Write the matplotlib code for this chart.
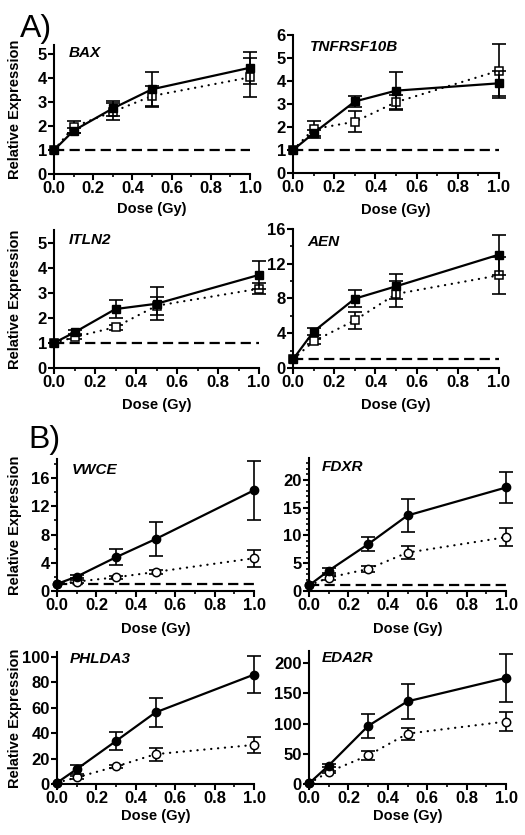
import matplotlib
matplotlib.use("Agg")
import matplotlib.pyplot as plt
from matplotlib.ticker import MultipleLocator

plt.rcParams['font.family'] = ['Liberation Sans', 'DejaVu Sans']
plt.rcParams['font.weight'] = 'bold'

dose = [0.0, 0.1, 0.3, 0.5, 1.0]

# panel A (squares)
bax_filled = [1, 1.81, 2.74, 3.54, 4.44]
bax_filled_err = [0, 0.10, 0.30, 0.73, 0.67]
bax_open = [1, 1.97, 2.60, 3.26, 4.04]
bax_open_err = [0, 0.25, 0.35, 0.40, 0.82]

tnf_filled = [1, 1.73, 3.11, 3.58, 3.90]
tnf_filled_err = [0, 0.12, 0.25, 0.80, 0.55]
tnf_open = [1, 1.91, 2.23, 3.08, 4.45]
tnf_open_err = [0, 0.37, 0.45, 0.32, 1.17]

itln2_filled = [1, 1.42, 2.35, 2.56, 3.71]
itln2_filled_err = [0, 0.08, 0.35, 0.65, 0.56]
itln2_open = [1, 1.23, 1.63, 2.48, 3.16]
itln2_open_err = [0, 0.08, 0.10, 0.35, 0.22]

aen_filled = [1, 4.2, 7.98, 9.4, 13.05]
aen_filled_err = [0, 0.4, 0.95, 1.45, 2.3]
aen_open = [1, 3.07, 5.49, 8.52, 10.67]
aen_open_err = [0, 0.3, 1.0, 1.5, 2.1]

# panel B (circles)
vwce_filled = [1, 2.04, 4.79, 7.35, 14.27]
vwce_filled_err = [0, 0.2, 1.1, 2.4, 4.2]
vwce_open = [1, 1.33, 1.94, 2.7, 4.64]
vwce_open_err = [0, 0.2, 0.2, 0.3, 1.2]

fdxr_filled = [1, 3.66, 8.41, 13.57, 18.6]
fdxr_filled_err = [0, 0.4, 1.3, 2.9, 2.7]
fdxr_open = [1, 2.4, 3.96, 6.9, 9.67]
fdxr_open_err = [0, 0.4, 0.5, 1.1, 1.6]

phlda3_filled = [1, 11.7, 33.9, 56.4, 86.2]
phlda3_filled_err = [0, 3.5, 7.4, 11.7, 14.6]
phlda3_open = [1, 5.2, 13.8, 23.5, 30.8]
phlda3_open_err = [0, 1.0, 1.5, 5.2, 6.0]

eda2r_filled = [1, 30.6, 96, 136.7, 175.6]
eda2r_filled_err = [0, 3, 19.5, 29, 40]
eda2r_open = [1, 20, 47.2, 83.3, 103.3]
eda2r_open_err = [0, 2, 8, 10, 16]

W, H = 525, 835


def make_ax(fig, left, right, bottom, top):
    return fig.add_axes([left / W, 1 - bottom / H, (right - left) / W, (bottom - top) / H])


def draw_panel(ax, gene, filled, filled_err, open_, open_err, ymax, ystep,
               yminor=None, marker='s', refline=True, label_pos=(0.075, 0.93),
               ylabel=False, ylabel_x=-0.2, xlabel_y=-0.26):
    dotted = (0, (0.1, 3.0))
    # open series (dotted)
    ax.plot(dose, open_, linestyle=dotted, color='black', lw=1.6,
            dash_capstyle='round', clip_on=False, zorder=3)
    ax.errorbar(dose[1:], open_[1:], yerr=open_err[1:], fmt='none', ecolor='black',
                elinewidth=1.2, capsize=5, capthick=1.2, clip_on=False, zorder=3)
    ax.plot(dose, open_, linestyle='none', marker=marker, ms=6, mfc='white',
            mec='black', mew=1.1, clip_on=False, zorder=4)
    # filled series (solid)
    ax.plot(dose, filled, '-', color='black', lw=1.6, clip_on=False, zorder=5)
    ax.errorbar(dose[1:], filled[1:], yerr=filled_err[1:], fmt='none', ecolor='black',
                elinewidth=1.2, capsize=5, capthick=1.2, clip_on=False, zorder=5)
    ax.plot(dose, filled, linestyle='none', marker=marker, ms=6, mfc='black',
            mec='black', clip_on=False, zorder=6)
    if refline:
        ax.axhline(1, color='black', lw=1.6, linestyle=(0, (4.6, 2.4)), zorder=2)

    ax.set_xlim(0, 1.0)
    ax.set_ylim(0, ymax)
    ax.xaxis.set_minor_locator(MultipleLocator(0.1))
    ax.yaxis.set_major_locator(MultipleLocator(ystep))
    if yminor:
        ax.yaxis.set_minor_locator(MultipleLocator(yminor))
    ax.set_xticks([0, 0.2, 0.4, 0.6, 0.8, 1.0])
    ax.set_xticklabels(['0.0', '0.2', '0.4', '0.6', '0.8', '1.0'])
    for s in ['top', 'right']:
        ax.spines[s].set_visible(False)
    for s in ['left', 'bottom']:
        ax.spines[s].set_linewidth(1.5)
    ax.tick_params(which='major', direction='out', length=4, width=1.5,
                   labelsize=12, pad=1.2)
    ax.tick_params(which='minor', direction='out', length=2.5, width=1.2)
    for lab in ax.get_xticklabels() + ax.get_yticklabels():
        lab.set_fontweight('bold')
    ax.text(label_pos[0], label_pos[1], gene, transform=ax.transAxes, style='italic',
            fontsize=11, fontweight='bold', ha='left', va='center')
    ax.set_xlabel('Dose (Gy)', fontsize=10.5, fontweight='bold')
    ax.xaxis.set_label_coords(0.5, xlabel_y)
    if ylabel:
        ax.set_ylabel('Relative Expression', fontsize=10.5, fontweight='bold')
        ax.yaxis.set_label_coords(ylabel_x, 0.5)


fig = plt.figure(figsize=(W / 100, H / 100), dpi=100)

ax1 = make_ax(fig, 54, 250, 174, 45)
draw_panel(ax1, 'BAX', bax_filled, bax_filled_err, bax_open, bax_open_err,
           5.39, 1, label_pos=(0.075, 0.94), ylabel=True, ylabel_x=-0.163, xlabel_y=-0.22)

ax2 = make_ax(fig, 293, 499, 173, 35)
draw_panel(ax2, 'TNFRSF10B', tnf_filled, tnf_filled_err, tnf_open, tnf_open_err,
           6, 1, label_pos=(0.08, 0.91), xlabel_y=-0.215)

ax3 = make_ax(fig, 54, 259, 368, 230)
draw_panel(ax3, 'ITLN2', itln2_filled, itln2_filled_err, itln2_open, itln2_open_err,
           5.5, 1, label_pos=(0.07, 0.93), ylabel=True, ylabel_x=-0.156, xlabel_y=-0.215)

ax4 = make_ax(fig, 293, 499, 368, 229)
draw_panel(ax4, 'AEN', aen_filled, aen_filled_err, aen_open, aen_open_err,
           16, 4, yminor=2, label_pos=(0.07, 0.91), xlabel_y=-0.215)

ax5 = make_ax(fig, 57, 254, 591, 459)
draw_panel(ax5, 'VWCE', vwce_filled, vwce_filled_err, vwce_open, vwce_open_err,
           18.7, 4, yminor=2, marker='o', label_pos=(0.075, 0.92), ylabel=True,
           ylabel_x=-0.178, xlabel_y=-0.235)

ax6 = make_ax(fig, 309, 506, 591, 458)
draw_panel(ax6, 'FDXR', fdxr_filled, fdxr_filled_err, fdxr_open, fdxr_open_err,
           23.9, 5, yminor=1, marker='o', label_pos=(0.066, 0.93), xlabel_y=-0.235)

ax7 = make_ax(fig, 57, 254, 784, 652)
draw_panel(ax7, 'PHLDA3', phlda3_filled, phlda3_filled_err, phlda3_open, phlda3_open_err,
           104, 20, marker='o', refline=False, label_pos=(0.066, 0.95), ylabel=True,
           ylabel_x=-0.178, xlabel_y=-0.19)

ax8 = make_ax(fig, 309, 506, 784, 651)
draw_panel(ax8, 'EDA2R', eda2r_filled, eda2r_filled_err, eda2r_open, eda2r_open_err,
           220, 50, marker='o', refline=False, label_pos=(0.066, 0.95), xlabel_y=-0.19)

fig.text(20 / W, 1 - 37 / H, 'A)', fontsize=23, fontweight='normal', va='baseline', ha='left')
fig.text(28 / W, 1 - 448 / H, 'B)', fontsize=23, fontweight='normal', va='baseline', ha='left')

fig.savefig('out.png', dpi=100)
